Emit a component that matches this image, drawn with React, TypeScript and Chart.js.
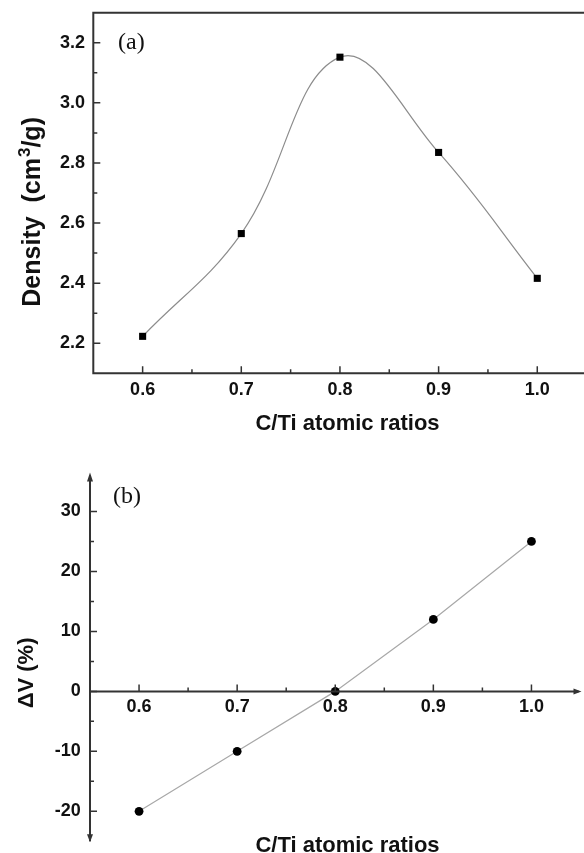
import React, { useEffect, useRef } from "react";
import { Chart, registerables } from "chart.js";
Chart.register(...registerables);

// ---- data ----
const RATIOS = [0.6, 0.7, 0.8, 0.9, 1.0];
const DENSITY = [2.223, 2.565, 3.152, 2.835, 2.416];
const DELTA_V = [-20, -10, 0, 12, 25];

const X_TICKS = [0.6, 0.7, 0.8, 0.9, 1.0];
const X_MINOR = [0.65, 0.75, 0.85, 0.95];
const TOP_Y_TICKS = [2.2, 2.4, 2.6, 2.8, 3.0, 3.2];
const TOP_Y_MINOR = [2.3, 2.5, 2.7, 2.9, 3.1];
const BOT_Y_TICKS = [-20, -10, 0, 10, 20, 30];
const BOT_Y_MINOR = [-15, -5, 5, 15, 25];

const X_TITLE = "C/Ti atomic ratios";
const TOP_Y_TITLE_A = "Density  (cm";
const TOP_Y_TITLE_SUP = "3";
const TOP_Y_TITLE_B = "/g)";
const BOT_Y_TITLE = "ΔV (%)";
const PANEL_A = "(a)";
const PANEL_B = "(b)";

const SANS = '"Liberation Sans", Arial, sans-serif';
const SERIF = '"Liberation Serif", "Times New Roman", serif';
const AXIS_COLOR = "#333";
const TEXT_COLOR = "#111";

const TOP_W = 600, TOP_H = 445;
const BOT_W = 600, BOT_H = 408;

function tickFont() {
  return { family: SANS, size: 18, weight: "bold" as const };
}

const topPlugin = {
  id: "topDecor",
  afterDraw(chart: any) {
    const ctx = chart.ctx;
    const { left, right, top, bottom } = chart.chartArea;
    const xs = chart.scales.x, ys = chart.scales.y;
    ctx.save();
    ctx.strokeStyle = AXIS_COLOR;
    ctx.lineWidth = 2;
    ctx.beginPath();
    ctx.rect(left, top, right - left, bottom - top);
    ctx.stroke();
    ctx.lineWidth = 1.5;
    ctx.beginPath();
    X_TICKS.forEach((v) => { const p = xs.getPixelForValue(v); ctx.moveTo(p, bottom); ctx.lineTo(p, bottom - 7); });
    X_MINOR.forEach((v) => { const p = xs.getPixelForValue(v); ctx.moveTo(p, bottom); ctx.lineTo(p, bottom - 4); });
    TOP_Y_TICKS.forEach((v) => { const p = ys.getPixelForValue(v); ctx.moveTo(left, p); ctx.lineTo(left + 7, p); });
    TOP_Y_MINOR.forEach((v) => { const p = ys.getPixelForValue(v); ctx.moveTo(left, p); ctx.lineTo(left + 4, p); });
    ctx.stroke();

    ctx.fillStyle = TEXT_COLOR;
    // x title
    ctx.font = `bold 22px ${SANS}`;
    ctx.textAlign = "center";
    ctx.textBaseline = "alphabetic";
    ctx.fillText(X_TITLE, 347.5, 430);
    // y title (rotated)
    ctx.save();
    ctx.translate(40, 306.7);
    ctx.rotate(-Math.PI / 2);
    ctx.textAlign = "left";
    ctx.font = `bold 25px ${SANS}`;
    let x = 0;
    ctx.fillText(TOP_Y_TITLE_A, x, 0);
    x += ctx.measureText(TOP_Y_TITLE_A).width;
    ctx.font = `bold 17px ${SANS}`;
    ctx.fillText(TOP_Y_TITLE_SUP, x + 1, -10);
    x += ctx.measureText(TOP_Y_TITLE_SUP).width + 1;
    ctx.font = `bold 25px ${SANS}`;
    ctx.fillText(TOP_Y_TITLE_B, x, 0);
    ctx.restore();
    // panel label
    ctx.font = `24px ${SERIF}`;
    ctx.textAlign = "left";
    ctx.fillText(PANEL_A, 118, 49);
    ctx.restore();
  },
};

const botPlugin = {
  id: "botDecor",
  afterDraw(chart: any) {
    const ctx = chart.ctx;
    const { left, right, top, bottom } = chart.chartArea;
    const xs = chart.scales.x, ys = chart.scales.y;
    const y0 = ys.getPixelForValue(0);
    ctx.save();
    ctx.strokeStyle = AXIS_COLOR;
    ctx.fillStyle = AXIS_COLOR;
    ctx.lineWidth = 2;
    ctx.beginPath();
    ctx.moveTo(left, top);
    ctx.lineTo(left, bottom);
    ctx.moveTo(left, y0);
    ctx.lineTo(right - 2, y0);
    ctx.stroke();
    // arrows
    ctx.beginPath();
    ctx.moveTo(left, top - 3); ctx.lineTo(left - 3, top + 6); ctx.lineTo(left + 3, top + 6); ctx.closePath();
    ctx.moveTo(left, bottom + 1); ctx.lineTo(left - 3, bottom - 7); ctx.lineTo(left + 3, bottom - 7); ctx.closePath();
    ctx.moveTo(right + 1, y0); ctx.lineTo(right - 7, y0 - 3); ctx.lineTo(right - 7, y0 + 3); ctx.closePath();
    ctx.fill();
    ctx.lineWidth = 1.5;
    ctx.beginPath();
    X_TICKS.forEach((v) => { const p = xs.getPixelForValue(v); ctx.moveTo(p, y0); ctx.lineTo(p, y0 - 7); });
    X_MINOR.forEach((v) => { const p = xs.getPixelForValue(v); ctx.moveTo(p, y0); ctx.lineTo(p, y0 - 4); });
    BOT_Y_TICKS.forEach((v) => { const p = ys.getPixelForValue(v); ctx.moveTo(left, p); ctx.lineTo(left + 7, p); });
    BOT_Y_MINOR.forEach((v) => { const p = ys.getPixelForValue(v); ctx.moveTo(left, p); ctx.lineTo(left + 4, p); });
    ctx.stroke();

    ctx.fillStyle = TEXT_COLOR;
    ctx.font = `bold 22px ${SANS}`;
    ctx.textAlign = "center";
    ctx.textBaseline = "alphabetic";
    ctx.fillText(X_TITLE, 347.5, 852 - 445);
    ctx.save();
    ctx.translate(33, 708.3 - 445);
    ctx.rotate(-Math.PI / 2);
    ctx.textAlign = "left";
    ctx.font = `bold 22px ${SANS}`;
    ctx.fillText(BOT_Y_TITLE, 0, 0);
    ctx.restore();
    ctx.font = `24px ${SERIF}`;
    ctx.textAlign = "left";
    ctx.fillText(PANEL_B, 113, 502.5 - 445);
    ctx.restore();
  },
};

function fixTicks(list: number[]) {
  return (s: any) => {
    s.ticks = list.map((v) => ({ value: v }));
  };
}

export default function App() {
  const topRef = useRef<HTMLCanvasElement>(null);
  const botRef = useRef<HTMLCanvasElement>(null);

  useEffect(() => {
    const top = new Chart(topRef.current!, {
      type: "line",
      data: {
        datasets: [
          {
            data: RATIOS.map((x, i) => ({ x, y: DENSITY[i] })),
            borderColor: "#8c8c8c",
            borderWidth: 1.2,
            tension: 0.4,
            pointStyle: "rect",
            pointRadius: 5,
            pointBackgroundColor: "#000",
            pointBorderWidth: 0,
            clip: false as any,
          },
        ],
      },
      options: {
        animation: false,
        responsive: false,
        devicePixelRatio: 1,
        layout: { padding: { left: 0, top: 12.7, right: TOP_W - 586.6, bottom: 0 } },
        plugins: { legend: { display: false }, tooltip: { enabled: false } },
        scales: {
          x: {
            type: "linear",
            min: 0.55,
            max: 1.05,
            afterBuildTicks: fixTicks(X_TICKS),
            afterFit: (s: any) => { s.height = TOP_H - 373.3; s.paddingLeft = 0; s.paddingRight = 0; },
            grid: { display: false, drawTicks: false },
            border: { display: false },
            ticks: { font: tickFont(), color: TEXT_COLOR, padding: 6, autoSkip: false, maxRotation: 0, callback: (v: any) => Number(v).toFixed(1) },
          },
          y: {
            type: "linear",
            min: 2.1,
            max: 3.3,
            afterBuildTicks: fixTicks(TOP_Y_TICKS),
            afterFit: (s: any) => { s.width = 93.3; s.paddingTop = 0; s.paddingBottom = 0; },
            grid: { display: false, drawTicks: false },
            border: { display: false },
            ticks: { font: tickFont(), color: TEXT_COLOR, padding: 8.3, autoSkip: false, callback: (v: any) => Number(v).toFixed(1) },
          },
        },
      },
      plugins: [topPlugin],
    } as any);

    const bot = new Chart(botRef.current!, {
      type: "line",
      data: {
        datasets: [
          {
            data: RATIOS.map((x, i) => ({ x, y: DELTA_V[i] })),
            borderColor: "#a8a8a8",
            borderWidth: 1.2,
            tension: 0,
            pointStyle: "circle",
            pointRadius: 4.4,
            pointBackgroundColor: "#000",
            pointBorderWidth: 0,
          },
        ],
      },
      options: {
        animation: false,
        responsive: false,
        devicePixelRatio: 1,
        layout: { padding: { left: 0, top: 475.5 - 445, right: BOT_W - 580.5, bottom: BOT_H - (841.3 - 445) } },
        plugins: { legend: { display: false }, tooltip: { enabled: false } },
        scales: {
          x: {
            type: "linear",
            position: { y: 0 },
            min: 0.55,
            max: 1.05,
            afterBuildTicks: fixTicks(X_TICKS),
            afterFit: (s: any) => { s.paddingLeft = 0; s.paddingRight = 0; },
            grid: { display: false, drawTicks: false },
            border: { display: false },
            ticks: { font: tickFont(), color: TEXT_COLOR, padding: 5, autoSkip: false, maxRotation: 0, callback: (v: any) => Number(v).toFixed(1) },
          },
          y: {
            type: "linear",
            position: "left",
            min: -25,
            max: 36,
            afterBuildTicks: fixTicks(BOT_Y_TICKS),
            afterFit: (s: any) => { s.width = 90; s.paddingTop = 0; s.paddingBottom = 0; },
            grid: { display: false, drawTicks: false },
            border: { display: false },
            ticks: { font: tickFont(), color: TEXT_COLOR, padding: 9.3, autoSkip: false, callback: (v: any) => String(v) },
          },
        },
      },
      plugins: [botPlugin],
    } as any);

    return () => {
      top.destroy();
      bot.destroy();
    };
  }, []);

  return (
    <div style={{ position: "fixed", left: 0, top: 0, width: 584, height: 853, overflow: "hidden", background: "#fff" }}>
      <canvas ref={topRef} width={TOP_W} height={TOP_H} style={{ position: "absolute", left: 0, top: 0, width: TOP_W, height: TOP_H }} />
      <canvas ref={botRef} width={BOT_W} height={BOT_H} style={{ position: "absolute", left: 0, top: 445, width: BOT_W, height: BOT_H }} />
    </div>
  );
}
